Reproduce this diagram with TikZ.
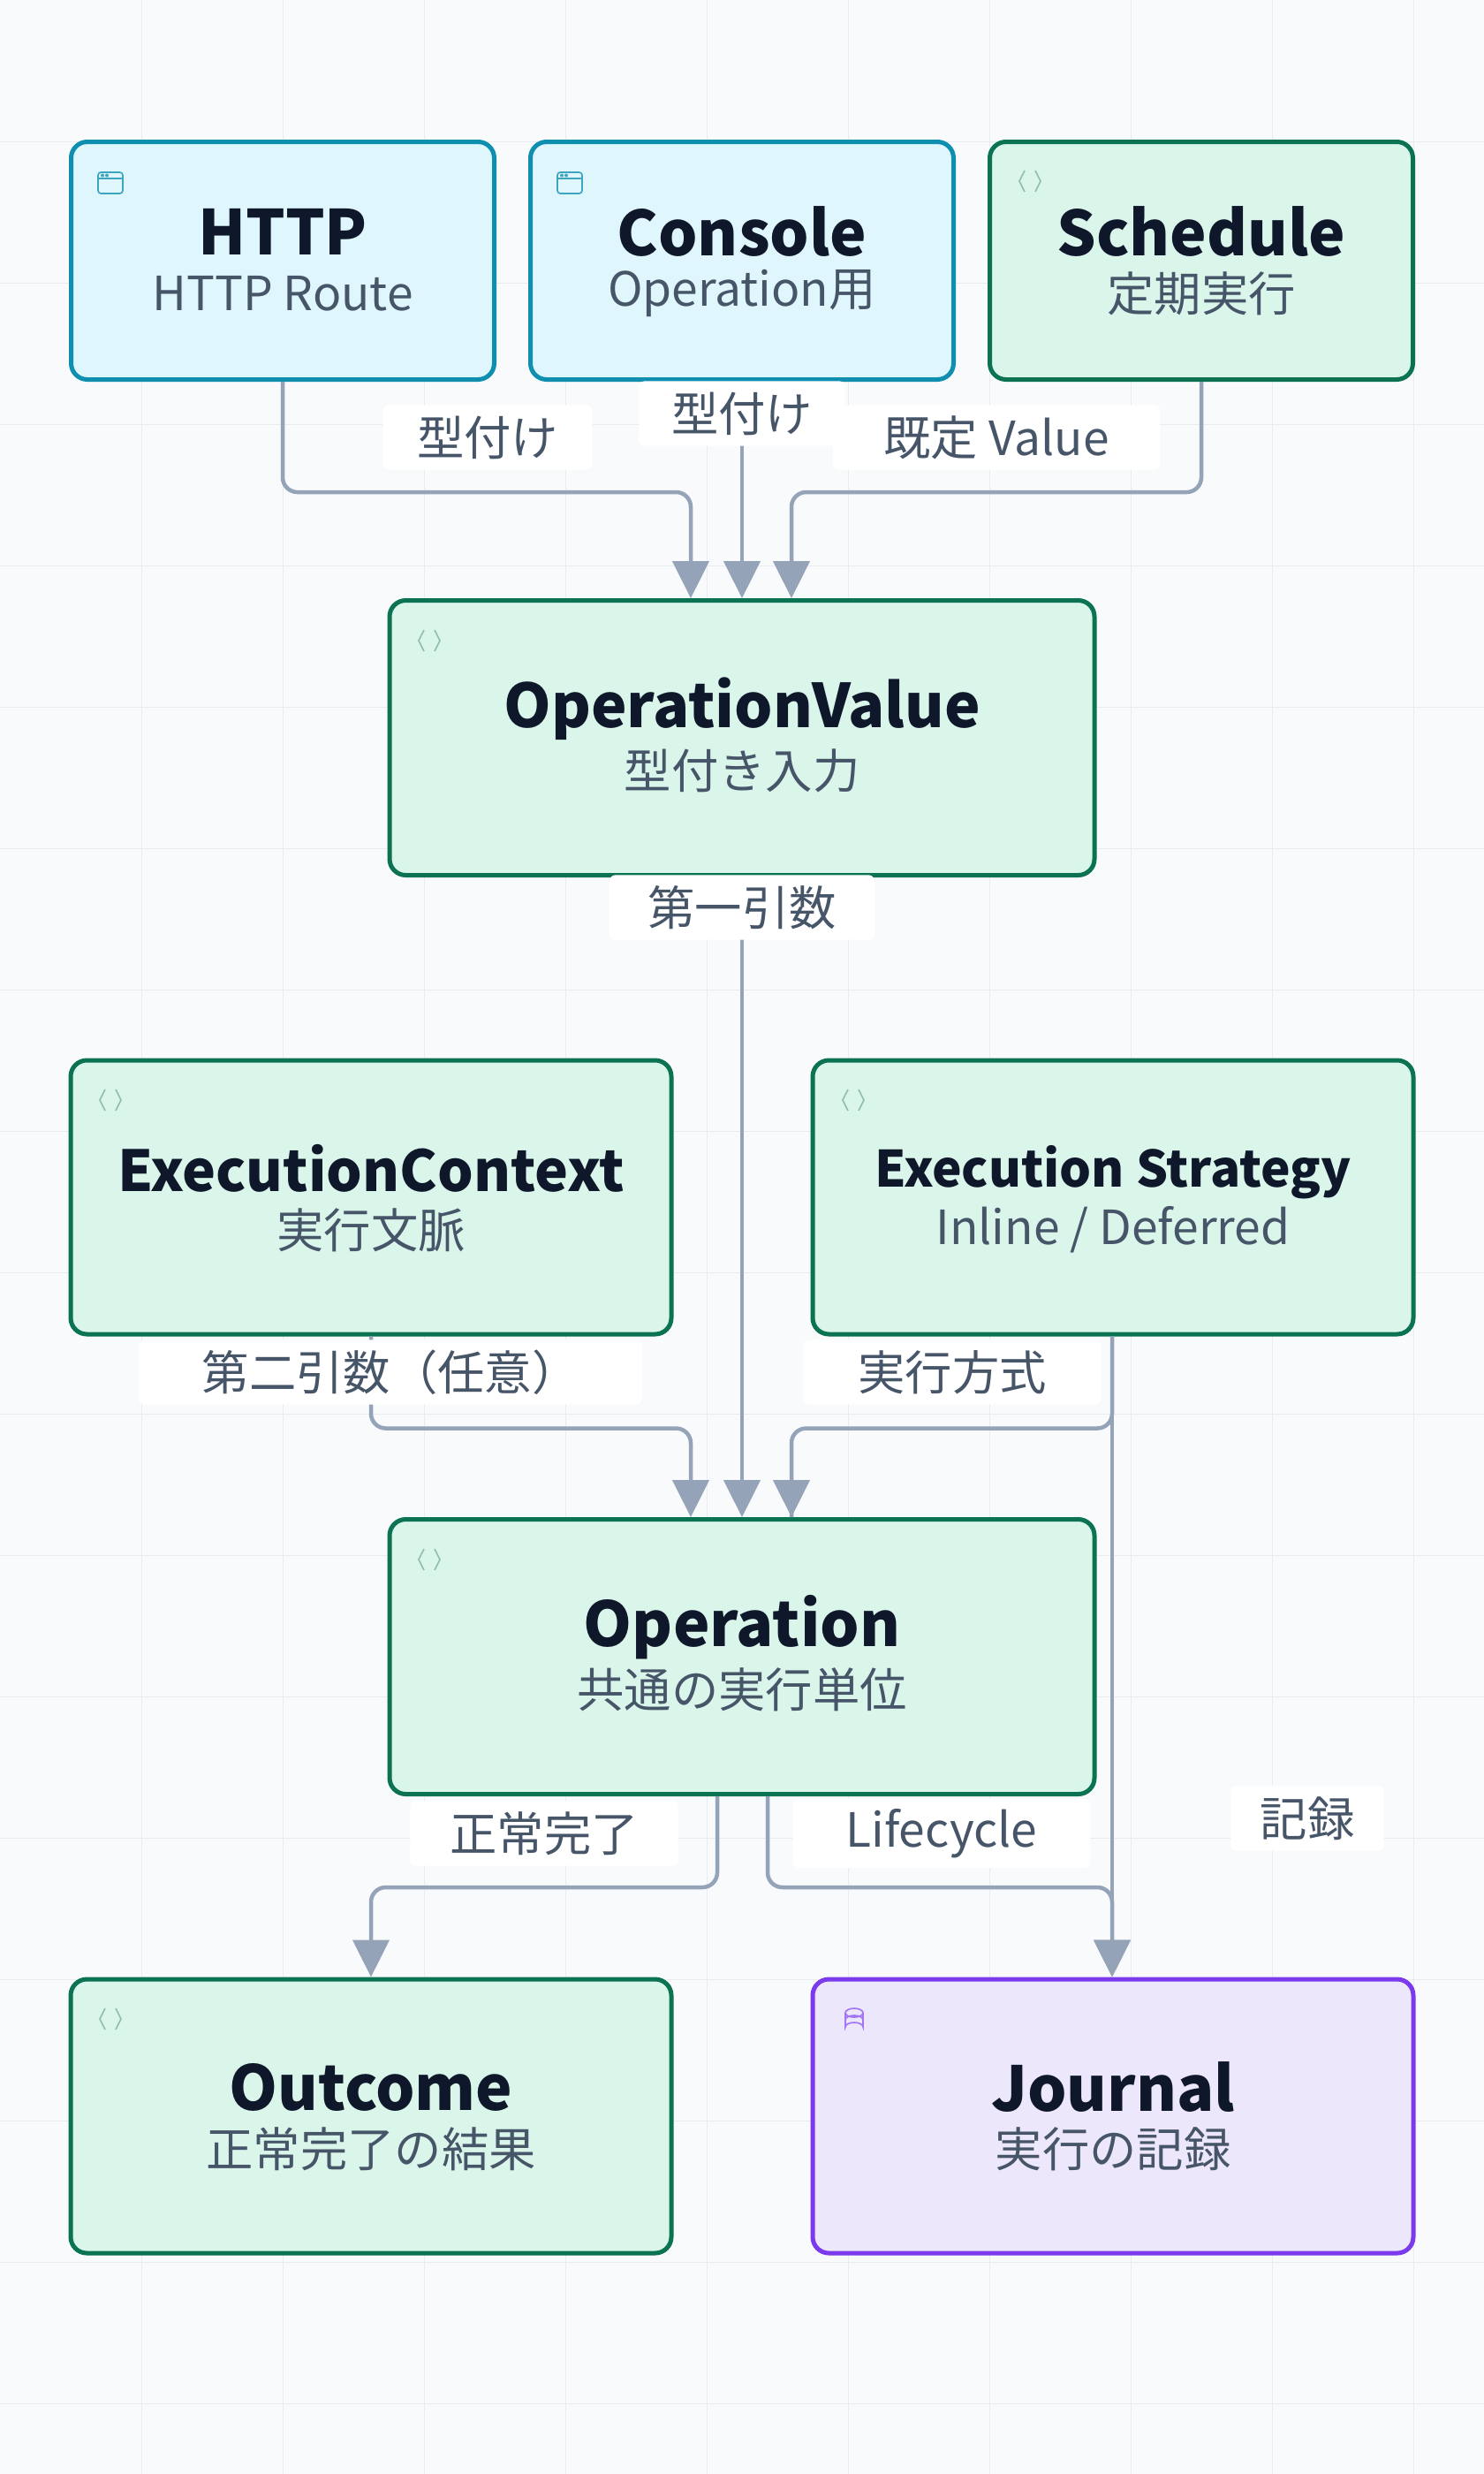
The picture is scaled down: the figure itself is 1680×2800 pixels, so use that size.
\documentclass[tikz,border=0pt]{standalone}
\usepackage{fontspec}
\setmainfont{Noto Sans CJK JP}
\usetikzlibrary{arrows.meta,calc}
\definecolor{bg}{HTML}{F8FAFC}
\definecolor{gridc}{HTML}{E8ECF1}
\definecolor{edgec}{HTML}{94A3B8}
\definecolor{titlec}{HTML}{0F172A}
\definecolor{subc}{HTML}{475569}
\definecolor{cyfill}{HTML}{DFF7FC}
\definecolor{cyline}{HTML}{0E8FB0}
\definecolor{grfill}{HTML}{DAF5EA}
\definecolor{grline}{HTML}{0B7352}
\definecolor{pufill}{HTML}{EDE7FC}
\definecolor{puline}{HTML}{7C3AED}
\tikzset{
  box/.style={draw, line width=1.5pt, rounded corners=5.5pt, inner sep=0pt},
  cy/.style={box, draw=cyline, fill=cyfill},
  gr/.style={box, draw=grline, fill=grfill},
  pu/.style={box, draw=puline, fill=pufill},
  small/.style={minimum width=143.7pt, minimum height=80.7pt},
  mid/.style={minimum width=204pt, minimum height=93pt},
  wide/.style={minimum width=239.4pt, minimum height=93.3pt},
  ttl/.style={text=titlec, font=\fontsize{21}{24}\selectfont\bfseries, inner sep=0pt},
  sub/.style={text=subc, font=\fontsize{16}{19}\selectfont, inner sep=0pt},
  elab/.style={fill=white, rounded corners=2pt, text=subc, font=\fontsize{16}{19}\selectfont, inner xsep=7pt, minimum height=22pt},
  edge/.style={draw=edgec, line width=1.35pt, rounded corners=5pt, -{Triangle[length=12.6pt,width=12.3pt]}},
  plain/.style={draw=edgec, line width=1.35pt, rounded corners=5pt},
}
\newcommand{\winicon}[1]{%
  \draw[cyline!80, line width=0.5pt, rounded corners=1pt] ($(#1)+(-14,-10)$) rectangle ($(#1)+(14,14)$);
  \draw[cyline!80, line width=0.5pt] ($(#1)+(-14,-3)$) -- ($(#1)+(14,-3)$);
  \fill[cyline!80] ($(#1)+(-9,-6.5)$) circle (0.6pt) ($(#1)+(-4,-6.5)$) circle (0.6pt);}
\newcommand{\codeicon}[1]{%
  \draw[grline!45, line width=0.5pt] ($(#1)+(-6,-12)$) -- ($(#1)+(-12,0)$) -- ($(#1)+(-6,12)$);
  \draw[grline!45, line width=0.5pt] ($(#1)+(6,-12)$) -- ($(#1)+(12,0)$) -- ($(#1)+(6,12)$);}
\begin{document}
\begin{tikzpicture}[x=0.3pt,y=-0.3pt]
\useasboundingbox (0,0) rectangle (1680,2800);
\fill[bg] (0,0) rectangle (1680,2800);
\foreach \i in {1,...,10} \draw[gridc, line width=0.3pt] (\i*160,0) -- (\i*160,2800);
\foreach \j in {1,...,17} \draw[gridc, line width=0.3pt] (0,\j*160) -- (1680,\j*160);

% nodes
\node[cy, small] (http) at (320,295) {};
\node[cy, small] (con) at (840,295) {};
\node[gr, small] (sch) at (1360,295) {};
\node[gr, wide] (ov) at (840,835) {};
\node[gr, mid] (ec) at (420,1355) {};
\node[gr, mid] (es) at (1260,1355) {};
\node[gr, wide] (op) at (840,1875) {};
\node[gr, mid] (out) at (420,2395) {};
\node[pu, mid] (jr) at (1260,2395) {};

% icons
\winicon{125,205} \winicon{645,205}
\codeicon{1166,205} \codeicon{486,725} \codeicon{125,1245}
\codeicon{966,1245} \codeicon{486,1765} \codeicon{125,2285}
\begin{scope}[puline!70, line width=0.5pt]
  \draw (957,2278) -- (957,2294) arc[start angle=180,end angle=360,x radius=10,y radius=5] -- (977,2278);
  \draw (967,2278) ellipse[x radius=10,y radius=5];
  \draw (957,2286) arc[start angle=180,end angle=360,x radius=10,y radius=5];
\end{scope}

% texts
\node[ttl] (t1) at (320,262) {HTTP};
\node[sub] (s1) at (320,332) {HTTP Route};
\node[ttl] (t2) at (840,262) {Console};
\node[sub] (s2) at (840,332) {Operation用};
\node[ttl] (t3) at (1360,262) {Schedule};
\node[sub] (s3) at (1360,332) {定期実行};
\node[ttl, font=\fontsize{20.5}{24}\selectfont\bfseries] (t4) at (840,802) {OperationValue};
\node[sub] (s4) at (840,872) {型付き入力};
\node[ttl, font=\fontsize{19.2}{22}\selectfont\bfseries] (t5) at (420,1322) {ExecutionContext};
\node[sub] (s5) at (420,1392) {実行文脈};
\node[ttl, font=\fontsize{17}{20}\selectfont\bfseries] (t6) at (1260,1327) {Execution Strategy};
\node[sub] (s6) at (1260,1392) {Inline / Deferred};
\node[ttl] (t7) at (840,1842) {Operation};
\node[sub] (s7) at (840,1912) {共通の実行単位};
\node[ttl] (t8) at (420,2362) {Outcome};
\node[sub] (s8) at (420,2432) {正常完了の結果};
\node[ttl] (t9) at (1260,2362) {Journal};
\node[sub] (s9) at (1260,2432) {実行の記録};

% edges
\draw[edge] (http.south) -- ++(0,125) -| ($(ov.north)+(-58,0)$);
\draw[edge] (con.south) -- (ov.north);
\draw[edge] (sch.south) -- ++(0,125) -| ($(ov.north)+(56,0)$);
\draw[edge] (ov.south) -- (op.north);
\draw[edge] (ec.south) -- ++(0,104) -| ($(op.north)+(-58,0)$);
\draw[plain] ($(es.south)+(-1,0)$) -- ++(0,104) -| ($(op.north)+(56,0)$);
\draw[edge] ($(es.south)+(-1,0)$) -- ($(jr.north)+(-1,0)$);
\draw[-{Triangle[length=12.6pt,width=12.3pt]}, draw=edgec, line width=1.35pt] ($(op.north)+(56,-60)$) -- ($(op.north)+(56,0)$);
\draw[edge] ($(op.south)+(-28,0)$) -- ++(0,103) -| (out.north);
\draw[edge] ($(op.south)+(29,0)$) -- ++(0,103) -| ($(jr.north)+(-1,0)$);

% edge labels
\node[elab, minimum width=71pt] (l1) at (552,495) {型付け};
\node[elab, minimum width=70pt] (l2) at (840,468) {型付け};
\node[elab, minimum width=111pt] (l3) at (1128,495) {既定 Value};
\node[elab, minimum width=90pt] (l4) at (840,1027) {第一引数};
\node[elab, minimum width=171pt] (l5) at (442,1553) {第二引数（任意）};
\node[elab, minimum width=101pt] (l6) at (1078,1553) {実行方式};
\node[elab, minimum width=91pt] (l7) at (616,2075) {正常完了};
\node[elab, minimum width=101pt] (l8) at (1066,2075) {Lifecycle};
\node[elab, minimum width=52pt] (l9) at (1480,2058) {記録};
\end{tikzpicture}
\end{document}
